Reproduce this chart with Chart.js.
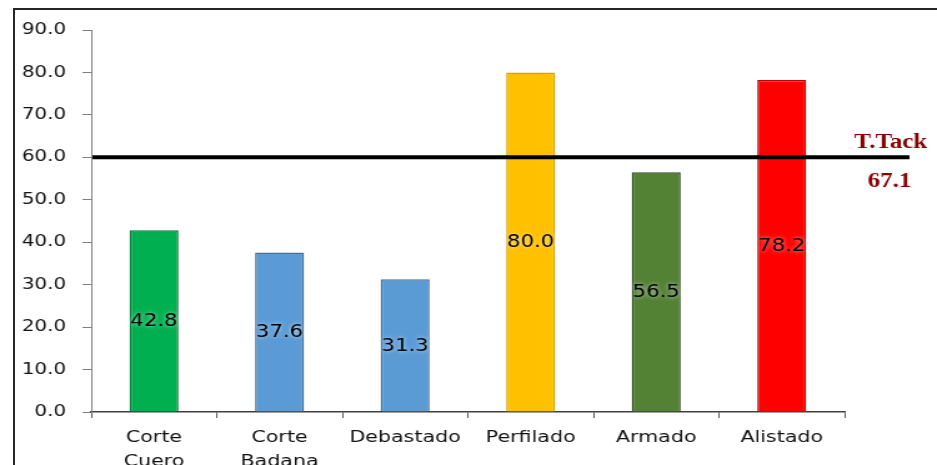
<!DOCTYPE html>
<html>
<head>
<meta charset="utf-8">
<script src="https://cdn.jsdelivr.net/npm/chart.js@4"></script>
<style>
  html, body { margin: 0; padding: 0; background: #fff; overflow: hidden; }
  #frame { position: absolute; left: 13px; top: 8px; width: 1000px; height: 500px;
           border-left: 2px solid #262626; border-top: 2px solid #262626; }
  #wrap { position: absolute; left: 0; top: 0; width: 750px; height: 465px;
          transform: scaleX(1.2493); transform-origin: 0 0; }
</style>
</head>
<body>
<div id="frame"></div>
<div id="wrap"><canvas id="chart"></canvas></div>
<script>
// data
const categories = [["Corte", "Cuero"], ["Corte", "Badana"], "Debastado", "Perfilado", "Armado", "Alistado"];
const tiempos = [42.8, 37.6, 31.3, 80.0, 56.5, 78.2];
const barColors = ["#00B050", "#5B9BD5", "#5B9BD5", "#FFC000", "#548235", "#FF0000"];
const barBorders = ["#007A38", "#41719C", "#41719C", "#D9A300", "#2E4A1D", "#C00000"];
const targetValue = 60;
const targetName = "T.Tack";
const targetText = "67.1";

const font = "DejaVu Sans";

const overlay = {
  id: "overlay",
  afterDatasetsDraw(chart) {
    const { ctx, chartArea, scales } = chart;
    const y = scales.y.getPixelForValue(targetValue);
    ctx.save();
    // target line
    ctx.strokeStyle = "#000";
    ctx.lineWidth = 4;
    ctx.beginPath();
    ctx.moveTo(chartArea.left + 1, y);
    ctx.lineTo(chartArea.right + 52, y);
    ctx.stroke();

    // target labels
    ctx.fillStyle = "#8B0000";
    ctx.font = "bold 20px 'Liberation Serif'";
    ctx.textAlign = "center";
    ctx.textBaseline = "middle";
    const lx = chartArea.right + 37;
    ctx.fillText(targetName, lx, y - 15);
    ctx.fillText(targetText, lx - 1, y + 24);

    // value labels centred in the bars
    ctx.font = "17px '" + font + "'";
    ctx.fillStyle = "#000";
    ctx.shadowColor = "rgba(255,255,255,0.7)";
    ctx.shadowBlur = 4;
    chart.getDatasetMeta(0).data.forEach((bar, i) => {
      ctx.fillText(tiempos[i].toFixed(1), bar.x, (bar.y + bar.base) / 2 + 1);
    });
    ctx.restore();
  }
};

new Chart(document.getElementById("chart").getContext("2d"), {
  type: "bar",
  data: {
    labels: categories,
    datasets: [
      {
        data: tiempos,
        backgroundColor: barColors,
        borderColor: barBorders,
        borderWidth: 1.5,
        barPercentage: 0.39,
        categoryPercentage: 1,
      },
    ],
  },
  options: {
    responsive: true,
    maintainAspectRatio: false,
    animation: false,
    layout: { padding: { left: 17, top: 30, right: 74, bottom: 0 } },
    plugins: { legend: { display: false }, tooltip: { enabled: false } },
    scales: {
      x: {
        afterFit: (s) => { s.height = 53; },
        grid: { offset: true, drawOnChartArea: false, tickLength: 6, color: "#595959" },
        border: { color: "#404040", width: 1.5 },
        ticks: { color: "#111", padding: 7, font: { family: font, size: 16.5, lineHeight: 1.5 }, maxRotation: 0, autoSkip: false },
      },
      y: {
        min: 0,
        max: 90,
        afterFit: (s) => { s.width = 56; },
        grid: { drawOnChartArea: false, tickLength: 7, color: "#7f7f7f" },
        border: { color: "#7f7f7f", width: 1 },
        ticks: { stepSize: 10, padding: 13, color: "#111", font: { family: font, size: 16 }, callback: (v) => v.toFixed(1) },
      },
    },
  },
  plugins: [overlay],
});
</script>
</body>
</html>
